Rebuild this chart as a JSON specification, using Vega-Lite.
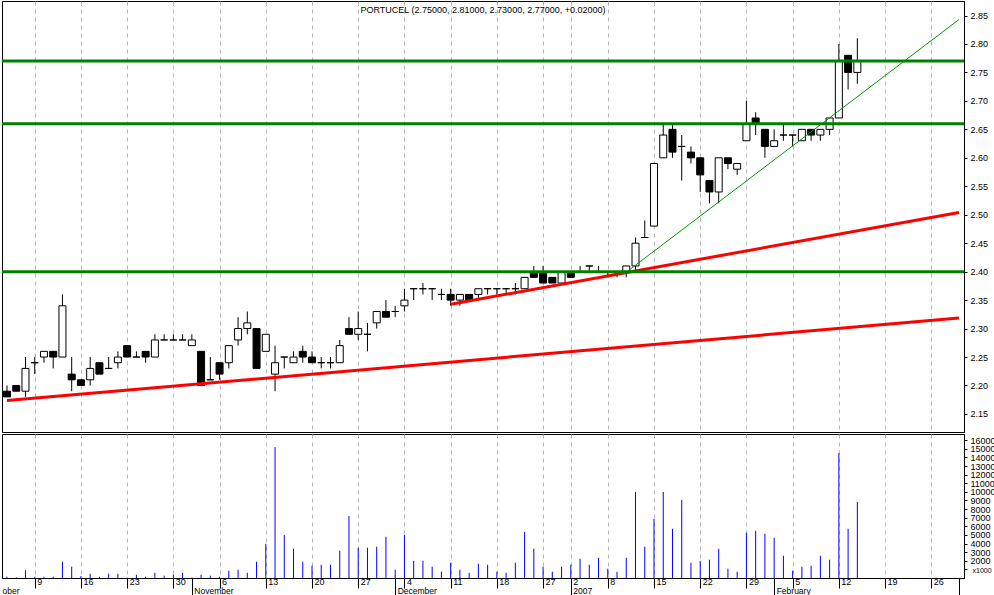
{
  "$schema": "https://vega.github.io/schema/vega-lite/v6.json",
  "padding": 0,
  "spacing": 0,
  "background": "white",
  "config": {
    "view": {"stroke": "black", "strokeWidth": 1},
    "font": "Liberation Sans",
    "axis": {"labelFont": "Liberation Sans", "labelFontSize": 9, "labelColor": "black", "domainColor": "black", "tickColor": "black", "title": null, "labelOverlap": false, "labelAngle": 0}
  },
  "datasets": {
    "px": [
      {"d":"2006-10-04","o":2.19,"h":2.20,"l":2.18,"c":2.18,"v":150},
      {"d":"2006-10-05","o":2.20,"h":2.20,"l":2.19,"c":2.19,"v":80},
      {"d":"2006-10-06","o":2.19,"h":2.25,"l":2.18,"c":2.23,"v":900},
      {"d":"2006-10-09","o":2.24,"h":2.25,"l":2.22,"c":2.24,"v":150},
      {"d":"2006-10-10","o":2.25,"h":2.26,"l":2.24,"c":2.26,"v":150},
      {"d":"2006-10-11","o":2.26,"h":2.26,"l":2.23,"c":2.25,"v":150},
      {"d":"2006-10-12","o":2.25,"h":2.36,"l":2.25,"c":2.34,"v":1890},
      {"d":"2006-10-13","o":2.22,"h":2.25,"l":2.19,"c":2.21,"v":1310},
      {"d":"2006-10-16","o":2.21,"h":2.21,"l":2.20,"c":2.20,"v":230},
      {"d":"2006-10-17","o":2.21,"h":2.25,"l":2.20,"c":2.23,"v":500},
      {"d":"2006-10-18","o":2.24,"h":2.24,"l":2.22,"c":2.22,"v":150},
      {"d":"2006-10-19","o":2.23,"h":2.25,"l":2.23,"c":2.23,"v":500},
      {"d":"2006-10-20","o":2.24,"h":2.26,"l":2.23,"c":2.25,"v":500},
      {"d":"2006-10-23","o":2.27,"h":2.27,"l":2.25,"c":2.25,"v":50},
      {"d":"2006-10-24","o":2.25,"h":2.26,"l":2.25,"c":2.25,"v":380},
      {"d":"2006-10-25","o":2.26,"h":2.26,"l":2.24,"c":2.25,"v":150},
      {"d":"2006-10-26","o":2.25,"h":2.29,"l":2.25,"c":2.28,"v":600},
      {"d":"2006-10-27","o":2.28,"h":2.29,"l":2.28,"c":2.28,"v":270},
      {"d":"2006-10-30","o":2.28,"h":2.29,"l":2.28,"c":2.28,"v":380},
      {"d":"2006-10-31","o":2.28,"h":2.29,"l":2.28,"c":2.28,"v":600},
      {"d":"2006-11-01","o":2.27,"h":2.29,"l":2.27,"c":2.28,"v":50},
      {"d":"2006-11-02","o":2.26,"h":2.26,"l":2.20,"c":2.20,"v":380},
      {"d":"2006-11-03","o":2.21,"h":2.25,"l":2.21,"c":2.21,"v":270},
      {"d":"2006-11-06","o":2.24,"h":2.24,"l":2.21,"c":2.22,"v":150},
      {"d":"2006-11-07","o":2.24,"h":2.27,"l":2.23,"c":2.27,"v":850},
      {"d":"2006-11-08","o":2.28,"h":2.32,"l":2.27,"c":2.30,"v":960},
      {"d":"2006-11-09","o":2.30,"h":2.33,"l":2.29,"c":2.31,"v":600},
      {"d":"2006-11-10","o":2.30,"h":2.30,"l":2.23,"c":2.23,"v":1890},
      {"d":"2006-11-13","o":2.26,"h":2.29,"l":2.26,"c":2.29,"v":3970},
      {"d":"2006-11-14","o":2.22,"h":2.27,"l":2.19,"c":2.24,"v":15200},
      {"d":"2006-11-15","o":2.25,"h":2.25,"l":2.23,"c":2.25,"v":5000},
      {"d":"2006-11-16","o":2.24,"h":2.26,"l":2.24,"c":2.25,"v":3400},
      {"d":"2006-11-17","o":2.26,"h":2.27,"l":2.24,"c":2.25,"v":1890},
      {"d":"2006-11-20","o":2.25,"h":2.26,"l":2.24,"c":2.24,"v":1430},
      {"d":"2006-11-21","o":2.24,"h":2.25,"l":2.23,"c":2.24,"v":1540},
      {"d":"2006-11-22","o":2.24,"h":2.25,"l":2.23,"c":2.24,"v":1540},
      {"d":"2006-11-23","o":2.24,"h":2.28,"l":2.24,"c":2.27,"v":3160},
      {"d":"2006-11-24","o":2.30,"h":2.32,"l":2.29,"c":2.29,"v":7200},
      {"d":"2006-11-27","o":2.29,"h":2.33,"l":2.28,"c":2.30,"v":3510},
      {"d":"2006-11-28","o":2.29,"h":2.31,"l":2.26,"c":2.29,"v":3510},
      {"d":"2006-11-29","o":2.31,"h":2.33,"l":2.30,"c":2.33,"v":3630},
      {"d":"2006-11-30","o":2.33,"h":2.35,"l":2.32,"c":2.32,"v":4790},
      {"d":"2006-12-01","o":2.33,"h":2.34,"l":2.32,"c":2.33,"v":960},
      {"d":"2006-12-04","o":2.34,"h":2.37,"l":2.33,"c":2.35,"v":5000},
      {"d":"2006-12-05","o":2.37,"h":2.37,"l":2.35,"c":2.37,"v":2000},
      {"d":"2006-12-06","o":2.37,"h":2.38,"l":2.36,"c":2.37,"v":2000},
      {"d":"2006-12-07","o":2.37,"h":2.37,"l":2.35,"c":2.37,"v":1310},
      {"d":"2006-12-08","o":2.36,"h":2.37,"l":2.35,"c":2.36,"v":730},
      {"d":"2006-12-11","o":2.36,"h":2.37,"l":2.34,"c":2.35,"v":1770},
      {"d":"2006-12-12","o":2.35,"h":2.36,"l":2.34,"c":2.36,"v":960},
      {"d":"2006-12-13","o":2.36,"h":2.36,"l":2.35,"c":2.35,"v":600},
      {"d":"2006-12-14","o":2.36,"h":2.37,"l":2.35,"c":2.37,"v":1660},
      {"d":"2006-12-15","o":2.37,"h":2.37,"l":2.36,"c":2.37,"v":1540},
      {"d":"2006-12-18","o":2.37,"h":2.37,"l":2.36,"c":2.37,"v":730},
      {"d":"2006-12-19","o":2.37,"h":2.37,"l":2.36,"c":2.37,"v":600},
      {"d":"2006-12-20","o":2.37,"h":2.38,"l":2.36,"c":2.37,"v":1770},
      {"d":"2006-12-21","o":2.37,"h":2.39,"l":2.37,"c":2.39,"v":5360},
      {"d":"2006-12-22","o":2.40,"h":2.41,"l":2.39,"c":2.39,"v":3400},
      {"d":"2006-12-27","o":2.40,"h":2.41,"l":2.38,"c":2.38,"v":1310},
      {"d":"2006-12-28","o":2.39,"h":2.39,"l":2.38,"c":2.38,"v":730},
      {"d":"2006-12-29","o":2.38,"h":2.40,"l":2.38,"c":2.40,"v":1310},
      {"d":"2007-01-02","o":2.40,"h":2.40,"l":2.39,"c":2.39,"v":1540},
      {"d":"2007-01-03","o":2.40,"h":2.41,"l":2.40,"c":2.40,"v":2240},
      {"d":"2007-01-04","o":2.41,"h":2.41,"l":2.40,"c":2.41,"v":1540},
      {"d":"2007-01-05","o":2.40,"h":2.41,"l":2.40,"c":2.40,"v":2350},
      {"d":"2007-01-08","o":2.40,"h":2.40,"l":2.39,"c":2.40,"v":1080},
      {"d":"2007-01-09","o":2.40,"h":2.40,"l":2.39,"c":2.40,"v":730},
      {"d":"2007-01-10","o":2.40,"h":2.41,"l":2.39,"c":2.41,"v":2350},
      {"d":"2007-01-11","o":2.41,"h":2.46,"l":2.40,"c":2.45,"v":10000},
      {"d":"2007-01-12","o":2.46,"h":2.49,"l":2.46,"c":2.46,"v":3630},
      {"d":"2007-01-15","o":2.48,"h":2.59,"l":2.48,"c":2.59,"v":6870},
      {"d":"2007-01-16","o":2.60,"h":2.66,"l":2.60,"c":2.64,"v":10000},
      {"d":"2007-01-17","o":2.65,"h":2.66,"l":2.60,"c":2.61,"v":5710},
      {"d":"2007-01-18","o":2.62,"h":2.64,"l":2.56,"c":2.62,"v":9070},
      {"d":"2007-01-19","o":2.61,"h":2.62,"l":2.59,"c":2.60,"v":1770},
      {"d":"2007-01-22","o":2.60,"h":2.60,"l":2.54,"c":2.57,"v":2000},
      {"d":"2007-01-23","o":2.56,"h":2.56,"l":2.52,"c":2.54,"v":2120},
      {"d":"2007-01-24","o":2.54,"h":2.60,"l":2.52,"c":2.60,"v":3400},
      {"d":"2007-01-25","o":2.60,"h":2.60,"l":2.58,"c":2.59,"v":1080},
      {"d":"2007-01-26","o":2.58,"h":2.59,"l":2.57,"c":2.59,"v":730},
      {"d":"2007-01-29","o":2.63,"h":2.70,"l":2.63,"c":2.66,"v":5250},
      {"d":"2007-01-30","o":2.67,"h":2.68,"l":2.64,"c":2.66,"v":5480},
      {"d":"2007-01-31","o":2.65,"h":2.65,"l":2.60,"c":2.62,"v":5130},
      {"d":"2007-02-01","o":2.62,"h":2.65,"l":2.62,"c":2.63,"v":4670},
      {"d":"2007-02-02","o":2.64,"h":2.66,"l":2.63,"c":2.64,"v":2580},
      {"d":"2007-02-05","o":2.64,"h":2.64,"l":2.62,"c":2.64,"v":850},
      {"d":"2007-02-06","o":2.63,"h":2.65,"l":2.63,"c":2.65,"v":1310},
      {"d":"2007-02-07","o":2.65,"h":2.65,"l":2.63,"c":2.64,"v":1430},
      {"d":"2007-02-08","o":2.64,"h":2.65,"l":2.63,"c":2.65,"v":2580},
      {"d":"2007-02-09","o":2.65,"h":2.67,"l":2.64,"c":2.67,"v":2120},
      {"d":"2007-02-12","o":2.67,"h":2.80,"l":2.67,"c":2.77,"v":14500},
      {"d":"2007-02-13","o":2.78,"h":2.78,"l":2.72,"c":2.75,"v":5710},
      {"d":"2007-02-14","o":2.75,"h":2.81,"l":2.73,"c":2.77,"v":8840}
    ],
    "trend": [
      {"line":"r1","d":"2006-10-04","p":2.1735},
      {"line":"r1","d":"2007-03-01","p":2.3186},
      {"line":"r2","d":"2006-12-11","p":2.3427},
      {"line":"r2","d":"2007-03-01","p":2.5039},
      {"line":"g1","d":"2007-01-10","p":2.399},
      {"line":"g1","d":"2007-03-01","p":2.843}
    ],
    "levels": [
      {"level":2.40},
      {"level":2.66},
      {"level":2.77}
    ]
  },
  "vconcat": [
    {
      "width": 962,
      "height": 431,
      "title": {"text": "PORTUCEL (2.75000, 2.81000, 2.73000, 2.77000, +0.02000)", "font": "Liberation Sans", "fontSize": 9, "fontWeight": "normal", "color": "black", "anchor": "middle", "offset": -14},
      "layer": [
        {
          "encoding": {
            "x": {
              "field": "d", "type": "ordinal",
              "scale": {"type": "point", "padding": 0.54, "domain": ["2006-10-04","2006-10-05","2006-10-06","2006-10-09","2006-10-10","2006-10-11","2006-10-12","2006-10-13","2006-10-16","2006-10-17","2006-10-18","2006-10-19","2006-10-20","2006-10-23","2006-10-24","2006-10-25","2006-10-26","2006-10-27","2006-10-30","2006-10-31","2006-11-01","2006-11-02","2006-11-03","2006-11-06","2006-11-07","2006-11-08","2006-11-09","2006-11-10","2006-11-13","2006-11-14","2006-11-15","2006-11-16","2006-11-17","2006-11-20","2006-11-21","2006-11-22","2006-11-23","2006-11-24","2006-11-27","2006-11-28","2006-11-29","2006-11-30","2006-12-01","2006-12-04","2006-12-05","2006-12-06","2006-12-07","2006-12-08","2006-12-11","2006-12-12","2006-12-13","2006-12-14","2006-12-15","2006-12-18","2006-12-19","2006-12-20","2006-12-21","2006-12-22","2006-12-27","2006-12-28","2006-12-29","2007-01-02","2007-01-03","2007-01-04","2007-01-05","2007-01-08","2007-01-09","2007-01-10","2007-01-11","2007-01-12","2007-01-15","2007-01-16","2007-01-17","2007-01-18","2007-01-19","2007-01-22","2007-01-23","2007-01-24","2007-01-25","2007-01-26","2007-01-29","2007-01-30","2007-01-31","2007-02-01","2007-02-02","2007-02-05","2007-02-06","2007-02-07","2007-02-08","2007-02-09","2007-02-12","2007-02-13","2007-02-14","2007-02-15","2007-02-16","2007-02-19","2007-02-20","2007-02-21","2007-02-22","2007-02-23","2007-02-26","2007-02-27","2007-02-28","2007-03-01"]},
              "axis": {"orient": "bottom", "values": ["2006-10-09","2006-10-16","2006-10-23","2006-10-30","2006-11-06","2006-11-13","2006-11-20","2006-11-27","2006-12-04","2006-12-11","2006-12-18","2006-12-27","2007-01-02","2007-01-08","2007-01-15","2007-01-22","2007-01-29","2007-02-05","2007-02-12","2007-02-19","2007-02-26"], "grid": true, "gridColor": "#b4b4b4", "gridDash": [4, 4], "gridWidth": 1, "labels": false, "ticks": false, "domain": false}
            }
          },
          "layer": [
            {
              "data": {"name": "px"},
              "mark": {"type": "rule", "color": "black", "strokeWidth": 1},
              "encoding": {
                "y": {"field": "l", "type": "quantitative", "scale": {"domain": [2.1183, 2.8755], "nice": false, "zero": false},
                  "axis": {"orient": "right", "values": [2.15, 2.2, 2.25, 2.3, 2.35, 2.4, 2.45, 2.5, 2.55, 2.6, 2.65, 2.7, 2.75, 2.8, 2.85], "tickCount": 40, "format": ".2f", "tickSize": 3, "labelPadding": 3, "grid": false, "labelOverlap": false}},
                "y2": {"field": "h"}
              }
            },
            {
              "data": {"name": "px"},
              "mark": {"type": "bar", "width": 7, "stroke": "black", "strokeWidth": 1},
              "encoding": {
                "y": {"field": "o", "type": "quantitative", "scale": {"domain": [2.1183, 2.8755], "nice": false, "zero": false}},
                "y2": {"field": "c"},
                "fill": {"condition": {"test": "datum.c < datum.o", "value": "black"}, "value": "white"}
              }
            },
            {
              "data": {"name": "trend"},
              "transform": [{"filter": "datum.line != 'g1'"}],
              "mark": {"type": "line", "color": "#ff0000", "strokeWidth": 3},
              "encoding": {
                "y": {"field": "p", "type": "quantitative", "scale": {"domain": [2.1183, 2.8755], "nice": false, "zero": false}},
                "detail": {"field": "line"}
              }
            },
            {
              "data": {"name": "trend"},
              "transform": [{"filter": "datum.line == 'g1'"}],
              "mark": {"type": "line", "color": "#009900", "strokeWidth": 1},
              "encoding": {
                "y": {"field": "p", "type": "quantitative", "scale": {"domain": [2.1183, 2.8755], "nice": false, "zero": false}}
              }
            }
          ]
        },
        {
          "data": {"name": "levels"},
          "mark": {"type": "rule", "color": "#008000", "strokeWidth": 3},
          "encoding": {
            "y": {"field": "level", "type": "quantitative", "scale": {"domain": [2.1183, 2.8755], "nice": false, "zero": false}}
          }
        }
      ]
    },
    {
      "width": 962,
      "height": 144,
      "data": {"name": "px"},
      "layer": [
        {
          "mark": {"type": "rule", "color": "#0000ff", "strokeWidth": 1},
          "encoding": {
            "x": {
              "field": "d", "type": "ordinal",
              "scale": {"type": "point", "padding": 0.54, "domain": ["2006-10-04","2006-10-05","2006-10-06","2006-10-09","2006-10-10","2006-10-11","2006-10-12","2006-10-13","2006-10-16","2006-10-17","2006-10-18","2006-10-19","2006-10-20","2006-10-23","2006-10-24","2006-10-25","2006-10-26","2006-10-27","2006-10-30","2006-10-31","2006-11-01","2006-11-02","2006-11-03","2006-11-06","2006-11-07","2006-11-08","2006-11-09","2006-11-10","2006-11-13","2006-11-14","2006-11-15","2006-11-16","2006-11-17","2006-11-20","2006-11-21","2006-11-22","2006-11-23","2006-11-24","2006-11-27","2006-11-28","2006-11-29","2006-11-30","2006-12-01","2006-12-04","2006-12-05","2006-12-06","2006-12-07","2006-12-08","2006-12-11","2006-12-12","2006-12-13","2006-12-14","2006-12-15","2006-12-18","2006-12-19","2006-12-20","2006-12-21","2006-12-22","2006-12-27","2006-12-28","2006-12-29","2007-01-02","2007-01-03","2007-01-04","2007-01-05","2007-01-08","2007-01-09","2007-01-10","2007-01-11","2007-01-12","2007-01-15","2007-01-16","2007-01-17","2007-01-18","2007-01-19","2007-01-22","2007-01-23","2007-01-24","2007-01-25","2007-01-26","2007-01-29","2007-01-30","2007-01-31","2007-02-01","2007-02-02","2007-02-05","2007-02-06","2007-02-07","2007-02-08","2007-02-09","2007-02-12","2007-02-13","2007-02-14","2007-02-15","2007-02-16","2007-02-19","2007-02-20","2007-02-21","2007-02-22","2007-02-23","2007-02-26","2007-02-27","2007-02-28","2007-03-01"]},
              "axis": {"orient": "bottom", "values": ["2006-10-09","2006-10-16","2006-10-23","2006-10-30","2006-11-06","2006-11-13","2006-11-20","2006-11-27","2006-12-04","2006-12-11","2006-12-18","2006-12-27","2007-01-02","2007-01-08","2007-01-15","2007-01-22","2007-01-29","2007-02-05","2007-02-12","2007-02-19","2007-02-26"], "labelExpr": "toNumber(slice(datum.value, 8, 10))", "grid": true, "gridColor": "#b4b4b4", "gridDash": [4, 4], "gridWidth": 1, "tickSize": 10, "labelAngle": 0, "labelAlign": "left", "labelBaseline": "top", "labelOffset": 2, "labelPadding": -11, "labelFontSize": 9, "labelOverlap": false, "domain": true}
            },
            "y": {"field": "v", "type": "quantitative", "scale": {"domain": [0, 16720], "nice": false},
              "axis": {"orient": "right", "values": [1000, 2000, 3000, 4000, 5000, 6000, 7000, 8000, 9000, 10000, 11000, 12000, 13000, 14000, 15000, 16000], "tickCount": 40, "format": "d", "labelExpr": "datum.value == 1000 ? '' : datum.label", "labelOverlap": false, "tickSize": 3, "labelPadding": 3, "grid": false, "title": "x1000", "titleAngle": 0, "titleFontSize": 7, "titleFontWeight": "normal", "titleFont": "Liberation Sans", "titleAlign": "left", "titleBaseline": "middle", "titleX": 8, "titleY": 136}},
            "y2": {"datum": 0}
          }
        },
        {
          "mark": {"type": "point", "opacity": 0},
          "encoding": {
            "x": {
              "field": "d", "type": "ordinal",
              "scale": {"type": "point", "padding": 0.54, "domain": ["2006-10-04","2006-10-05","2006-10-06","2006-10-09","2006-10-10","2006-10-11","2006-10-12","2006-10-13","2006-10-16","2006-10-17","2006-10-18","2006-10-19","2006-10-20","2006-10-23","2006-10-24","2006-10-25","2006-10-26","2006-10-27","2006-10-30","2006-10-31","2006-11-01","2006-11-02","2006-11-03","2006-11-06","2006-11-07","2006-11-08","2006-11-09","2006-11-10","2006-11-13","2006-11-14","2006-11-15","2006-11-16","2006-11-17","2006-11-20","2006-11-21","2006-11-22","2006-11-23","2006-11-24","2006-11-27","2006-11-28","2006-11-29","2006-11-30","2006-12-01","2006-12-04","2006-12-05","2006-12-06","2006-12-07","2006-12-08","2006-12-11","2006-12-12","2006-12-13","2006-12-14","2006-12-15","2006-12-18","2006-12-19","2006-12-20","2006-12-21","2006-12-22","2006-12-27","2006-12-28","2006-12-29","2007-01-02","2007-01-03","2007-01-04","2007-01-05","2007-01-08","2007-01-09","2007-01-10","2007-01-11","2007-01-12","2007-01-15","2007-01-16","2007-01-17","2007-01-18","2007-01-19","2007-01-22","2007-01-23","2007-01-24","2007-01-25","2007-01-26","2007-01-29","2007-01-30","2007-01-31","2007-02-01","2007-02-02","2007-02-05","2007-02-06","2007-02-07","2007-02-08","2007-02-09","2007-02-12","2007-02-13","2007-02-14","2007-02-15","2007-02-16","2007-02-19","2007-02-20","2007-02-21","2007-02-22","2007-02-23","2007-02-26","2007-02-27","2007-02-28","2007-03-01"]},
              "axis": {"orient": "bottom", "values": ["2006-10-04","2006-11-01","2006-12-01","2007-01-02","2007-02-01","2007-03-01"], "labelExpr": "datum.value == '2006-11-01' ? 'November' : datum.value == '2006-12-01' ? 'December' : datum.value == '2007-01-02' ? '2007' : datum.value == '2007-02-01' ? 'February' : datum.value == '2006-10-04' ? 'ober' : ''", "grid": false, "domain": false, "tickSize": 20, "tickOpacity": {"condition": {"test": "datum.value == '2006-10-04'", "value": 0}, "value": 1}, "labelAngle": 0, "labelAlign": "left", "labelBaseline": "top", "labelOffset": {"condition": {"test": "datum.value == '2006-10-04'", "value": -5}, "value": 2}, "labelPadding": -12, "labelFontSize": 8.5, "labelOverlap": false}
            }
          }
        }
      ],
      "resolve": {"axis": {"x": "independent"}}
    }
  ]
}
